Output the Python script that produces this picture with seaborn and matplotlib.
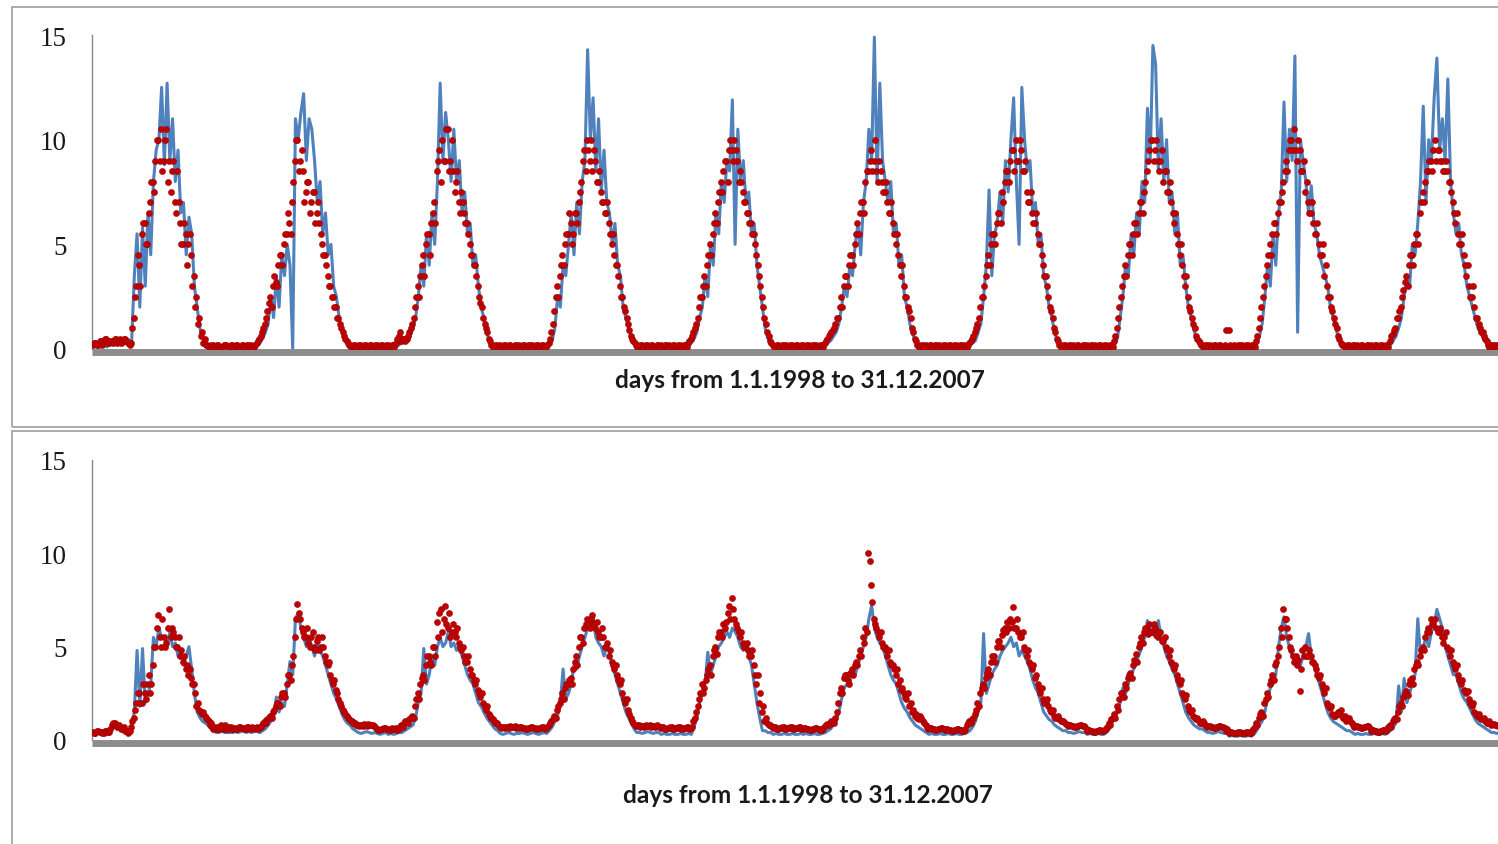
import matplotlib
matplotlib.use('Agg')
import matplotlib.pyplot as plt
import numpy as np
import pandas as pd
import seaborn as sns
from matplotlib.patches import Rectangle

# one row per year (1998 ... 2007), values read off the chart roughly once a week
YEAR_LEN = 365.25
N_YEARS = 10
Y_TICKS = [0, 5, 10, 15]
XLABEL = 'days from 1.1.1998 to 31.12.2007'

# upper panel, blue line
top_line = [
    [0.1, 0.2, 0.1, 0.3, 0.2, 0.1, 0.3, 0.2, 0.4, 0.2, 0.3, 0.2, 0.4, 0.3, 0.3, 3.5, 5.5, 2.0, 5.8, 3.0, 6.5, 4.5, 8.0, 9.5, 10.0, 12.5, 8.8, 12.7, 9.0, 11.0, 8.0, 9.5, 6.5, 7.0, 4.5, 6.3, 5.5, 3.0, 2.0, 1.0, 0.5, 0.3, 0.2, 0.1, 0.1, 0.2, 0.1, 0.1, 0.2, 0.1, 0.1, 0.1],
    [0.1, 0.2, 0.1, 0.1, 0.2, 0.1, 0.1, 0.2, 0.2, 0.3, 0.5, 0.8, 1.2, 2.5, 1.5, 3.5, 2.0, 4.5, 3.5, 5.0, 4.0, 0.0, 11.0, 10.0, 11.3, 12.2, 9.0, 11.0, 10.5, 9.0, 7.0, 8.0, 5.5, 6.5, 4.5, 5.0, 3.0, 2.5, 1.5, 1.0, 0.5, 0.3, 0.1, 0.1, 0.2, 0.1, 0.1, 0.1, 0.2, 0.1, 0.1, 0.1],
    [0.1, 0.1, 0.2, 0.1, 0.1, 0.2, 0.1, 0.1, 0.2, 0.3, 0.3, 0.4, 0.6, 1.0, 1.5, 2.5, 4.0, 3.0, 5.5, 4.0, 6.5, 5.0, 8.0, 12.7, 9.0, 11.3, 10.0, 8.0, 10.5, 8.0, 9.0, 6.5, 7.5, 5.5, 6.0, 4.0, 4.5, 3.0, 2.0, 1.5, 0.8, 0.4, 0.1, 0.2, 0.1, 0.1, 0.1, 0.2, 0.1, 0.1, 0.2, 0.1],
    [0.1, 0.2, 0.1, 0.1, 0.2, 0.1, 0.1, 0.2, 0.1, 0.1, 0.1, 0.2, 0.4, 1.0, 2.5, 2.0, 4.0, 3.5, 5.0, 6.5, 4.5, 7.0, 5.5, 8.0, 9.0, 14.3, 10.0, 12.0, 8.5, 11.0, 7.5, 9.5, 7.0, 6.5, 5.0, 6.0, 4.0, 3.5, 2.0, 1.5, 1.0, 0.5, 0.3, 0.1, 0.2, 0.1, 0.1, 0.1, 0.2, 0.1, 0.1, 0.1],
    [0.1, 0.1, 0.2, 0.1, 0.1, 0.2, 0.1, 0.1, 0.2, 0.1, 0.2, 0.3, 0.5, 0.8, 1.5, 2.0, 3.5, 2.5, 5.0, 4.0, 6.5, 5.5, 8.0, 7.0, 9.0, 8.5, 11.9, 5.0, 10.5, 8.0, 9.0, 7.0, 7.5, 5.5, 6.0, 4.0, 3.0, 2.0, 1.0, 0.5, 0.3, 0.1, 0.2, 0.1, 0.1, 0.1, 0.2, 0.1, 0.1, 0.2, 0.1, 0.1],
    [0.1, 0.2, 0.1, 0.1, 0.2, 0.1, 0.1, 0.1, 0.2, 0.3, 0.4, 0.6, 0.8, 1.2, 2.0, 3.0, 2.5, 4.0, 3.5, 5.0, 6.0, 4.5, 7.0, 8.0, 10.5, 9.0, 14.9, 8.0, 12.7, 9.0, 8.0, 7.0, 8.0, 5.5, 6.0, 4.0, 4.5, 2.5, 2.0, 1.2, 0.7, 0.4, 0.2, 0.1, 0.1, 0.2, 0.1, 0.1, 0.1, 0.2, 0.1, 0.1],
    [0.1, 0.1, 0.2, 0.1, 0.1, 0.2, 0.1, 0.1, 0.1, 0.2, 0.3, 0.4, 0.8, 1.2, 2.5, 4.0, 7.6, 3.5, 5.5, 6.0, 7.5, 6.0, 9.0, 7.5, 10.0, 12.0, 8.0, 5.0, 12.5, 10.0, 8.5, 9.0, 6.5, 7.0, 5.0, 5.5, 3.5, 3.0, 2.0, 1.5, 0.8, 0.4, 0.2, 0.1, 0.1, 0.1, 0.2, 0.1, 0.1, 0.2, 0.1, 0.1],
    [0.1, 0.2, 0.1, 0.1, 0.2, 0.1, 0.1, 0.2, 0.1, 0.1, 0.2, 0.5, 1.5, 2.5, 4.0, 3.5, 5.5, 4.5, 6.5, 5.5, 8.0, 7.0, 11.5, 9.0, 14.5, 13.6, 8.5, 11.0, 8.0, 10.0, 7.0, 7.5, 5.5, 6.5, 4.0, 4.5, 3.0, 2.0, 1.5, 0.9, 0.5, 0.3, 0.2, 0.1, 0.2, 0.1, 0.1, 0.2, 0.1, 0.1, 0.2, 0.1],
    [0.1, 0.1, 0.2, 0.1, 0.1, 0.1, 0.2, 0.1, 0.1, 0.1, 0.2, 0.6, 1.2, 2.5, 4.0, 3.0, 5.5, 4.0, 6.5, 7.5, 11.8, 8.0, 10.5, 9.0, 14.0, 0.8, 10.0, 9.0, 8.0, 6.5, 7.8, 6.0, 5.5, 4.5, 4.0, 3.5, 3.0, 2.0, 1.5, 1.0, 0.5, 0.3, 0.1, 0.2, 0.1, 0.1, 0.1, 0.2, 0.1, 0.1, 0.1, 0.1],
    [0.1, 0.2, 0.1, 0.1, 0.2, 0.1, 0.1, 0.2, 0.4, 0.6, 1.0, 1.5, 2.5, 3.5, 3.0, 5.0, 4.5, 6.0, 8.0, 11.6, 7.0, 10.0, 9.0, 12.0, 13.9, 9.5, 11.0, 9.0, 12.9, 8.0, 6.5, 5.5, 6.0, 4.5, 4.0, 3.0, 2.5, 2.0, 1.5, 1.0, 0.8, 0.5, 0.3, 0.1, 0.2, 0.1, 0.1, 0.1, 0.2, 0.1, 0.1, 0.1],
]

# upper panel, red dots (two readings per week: centre of the cloud and its other edge)
top_dots = [
    [0.2, 0.3, 0.2, 0.4, 0.3, 0.5, 0.3, 0.4, 0.5, 0.3, 0.5, 0.4, 0.5, 0.3, 0.3, 1.5, 3.0, 4.0, 5.5, 6.0, 5.0, 7.0, 8.0, 9.0, 10.0, 10.5, 9.0, 10.5, 9.0, 8.5, 7.0, 8.5, 6.0, 5.0, 5.5, 5.0, 4.5, 3.5, 2.5, 1.5, 0.8, 0.5, 0.2, 0.1, 0.2, 0.1, 0.2, 0.1, 0.2, 0.2, 0.1, 0.2],
    [0.1, 0.2, 0.1, 0.2, 0.1, 0.2, 0.2, 0.1, 0.3, 0.5, 0.8, 1.2, 1.8, 2.5, 3.0, 3.2, 4.0, 4.5, 5.0, 5.5, 6.0, 7.0, 9.0, 10.0, 9.0, 8.5, 7.5, 8.0, 7.0, 7.5, 6.5, 6.0, 5.0, 4.5, 3.5, 3.0, 2.5, 2.0, 1.5, 1.0, 0.6, 0.4, 0.2, 0.1, 0.2, 0.1, 0.2, 0.1, 0.2, 0.1, 0.2, 0.1],
    [0.2, 0.1, 0.2, 0.1, 0.2, 0.1, 0.2, 0.3, 0.6, 0.4, 0.5, 0.5, 0.8, 1.2, 2.0, 3.0, 3.5, 4.5, 5.0, 5.5, 6.0, 7.0, 8.5, 9.5, 10.0, 9.0, 10.5, 9.0, 8.5, 8.0, 7.0, 7.5, 6.5, 6.0, 5.0, 4.5, 4.0, 3.0, 2.2, 1.5, 1.0, 0.5, 0.2, 0.1, 0.2, 0.2, 0.1, 0.2, 0.1, 0.2, 0.1, 0.2],
    [0.2, 0.1, 0.2, 0.1, 0.2, 0.2, 0.1, 0.2, 0.1, 0.2, 0.1, 0.3, 0.8, 1.8, 3.0, 3.5, 4.5, 5.0, 5.5, 6.0, 5.5, 6.5, 7.0, 8.0, 9.5, 10.0, 9.0, 8.5, 9.0, 8.0, 7.5, 7.0, 6.5, 6.0, 5.0, 4.5, 4.0, 3.0, 2.5, 1.8, 1.2, 0.6, 0.4, 0.2, 0.1, 0.2, 0.1, 0.2, 0.1, 0.2, 0.1, 0.2],
    [0.2, 0.1, 0.2, 0.2, 0.1, 0.2, 0.1, 0.2, 0.1, 0.2, 0.3, 0.5, 0.8, 1.2, 2.0, 2.5, 3.5, 4.0, 5.0, 5.5, 6.5, 7.0, 8.0, 8.5, 9.0, 9.5, 9.5, 10.0, 9.0, 8.5, 7.5, 7.0, 6.5, 6.0, 5.5, 4.5, 3.5, 2.5, 1.5, 0.8, 0.4, 0.2, 0.1, 0.2, 0.1, 0.2, 0.2, 0.1, 0.2, 0.1, 0.2, 0.1],
    [0.2, 0.1, 0.2, 0.1, 0.2, 0.2, 0.1, 0.2, 0.3, 0.5, 0.7, 0.9, 1.2, 1.5, 2.5, 3.0, 3.5, 4.0, 4.5, 5.0, 6.0, 6.5, 7.0, 8.0, 8.5, 9.5, 9.0, 8.5, 9.0, 8.0, 7.5, 7.0, 6.5, 6.0, 5.0, 4.5, 3.5, 3.0, 2.5, 1.8, 1.0, 0.5, 0.2, 0.1, 0.2, 0.2, 0.1, 0.2, 0.1, 0.2, 0.2, 0.1],
    [0.2, 0.1, 0.2, 0.1, 0.2, 0.1, 0.2, 0.2, 0.1, 0.3, 0.5, 0.8, 1.2, 2.0, 2.5, 3.5, 4.5, 5.0, 5.5, 6.0, 6.5, 7.5, 8.0, 8.5, 9.0, 9.5, 10.0, 9.0, 9.5, 8.5, 7.5, 7.0, 6.5, 6.0, 5.5, 5.0, 4.0, 3.5, 2.5, 1.8, 1.0, 0.5, 0.2, 0.1, 0.2, 0.1, 0.2, 0.2, 0.1, 0.2, 0.1, 0.2],
    [0.2, 0.1, 0.2, 0.2, 0.1, 0.2, 0.1, 0.2, 0.1, 0.2, 0.4, 1.0, 2.0, 3.0, 4.0, 4.5, 5.0, 5.5, 6.0, 6.5, 7.0, 7.5, 8.5, 9.5, 10.0, 9.5, 9.0, 9.0, 8.0, 8.5, 7.5, 7.0, 6.0, 5.5, 4.5, 4.0, 3.0, 2.5, 1.8, 1.2, 0.6, 0.4, 0.2, 0.1, 0.2, 0.2, 0.1, 0.2, 0.1, 0.2, 0.1, 0.9],
    [0.9, 0.1, 0.2, 0.1, 0.2, 0.2, 0.1, 0.2, 0.1, 0.2, 0.4, 1.0, 2.0, 3.0, 4.0, 5.0, 5.5, 6.0, 6.5, 7.0, 8.0, 9.0, 9.5, 10.0, 10.5, 9.0, 9.5, 8.5, 7.5, 7.0, 6.5, 6.0, 5.5, 5.0, 4.5, 3.5, 3.0, 2.5, 1.8, 1.2, 0.6, 0.3, 0.2, 0.1, 0.2, 0.1, 0.2, 0.2, 0.1, 0.2, 0.1, 0.2],
    [0.2, 0.1, 0.2, 0.1, 0.2, 0.1, 0.2, 0.4, 0.7, 1.0, 1.5, 2.0, 2.8, 3.5, 4.0, 4.5, 5.0, 5.5, 6.5, 7.5, 8.0, 8.5, 9.0, 9.5, 9.0, 9.5, 9.0, 8.5, 8.5, 8.0, 7.0, 6.0, 5.5, 5.0, 4.5, 3.5, 3.0, 2.5, 2.0, 1.5, 1.0, 0.8, 0.5, 0.2, 0.2, 0.1, 0.2, 0.2, 0.1, 0.2, 0.1, 0.2],
]
top_dots_2 = [
    [0.3, 0.2, 0.4, 0.2, 0.5, 0.3, 0.4, 0.3, 0.5, 0.4, 0.3, 0.5, 0.4, 0.2, 1.0, 2.5, 4.5, 3.0, 6.0, 5.0, 6.5, 8.0, 7.5, 10.0, 9.0, 8.5, 10.0, 8.0, 7.5, 9.0, 6.5, 7.0, 5.0, 6.0, 4.0, 5.5, 3.0, 2.0, 1.2, 0.6, 0.3, 0.2, 0.1, 0.2, 0.1, 0.2, 0.1, 0.1, 0.2, 0.1, 0.2, 0.1],
    [0.2, 0.1, 0.2, 0.1, 0.2, 0.1, 0.1, 0.2, 0.4, 0.6, 1.0, 1.5, 2.2, 2.0, 3.5, 3.0, 4.5, 4.0, 5.5, 6.5, 5.5, 8.0, 10.0, 8.5, 9.5, 7.0, 8.0, 6.5, 7.5, 6.0, 7.0, 5.5, 4.5, 4.0, 3.0, 2.5, 2.0, 1.5, 1.2, 0.8, 0.5, 0.3, 0.1, 0.2, 0.1, 0.2, 0.1, 0.2, 0.1, 0.2, 0.1, 0.2],
    [0.1, 0.2, 0.1, 0.2, 0.1, 0.2, 0.1, 0.5, 0.8, 0.5, 0.4, 0.6, 1.0, 1.5, 2.5, 2.5, 4.0, 3.5, 5.5, 4.5, 6.5, 6.0, 9.0, 8.0, 9.0, 10.5, 8.5, 10.0, 7.5, 8.5, 6.5, 7.0, 6.0, 5.5, 4.5, 4.0, 3.5, 2.5, 2.0, 1.2, 0.8, 0.4, 0.1, 0.2, 0.1, 0.1, 0.2, 0.1, 0.2, 0.1, 0.2, 0.1],
    [0.1, 0.2, 0.1, 0.2, 0.1, 0.1, 0.2, 0.1, 0.2, 0.1, 0.2, 0.5, 1.2, 2.5, 2.5, 4.0, 4.0, 5.5, 6.5, 5.0, 6.5, 6.0, 7.5, 9.0, 8.5, 9.5, 10.0, 9.5, 8.0, 8.5, 7.0, 6.5, 7.0, 5.5, 5.5, 4.0, 3.5, 2.5, 2.0, 1.5, 0.9, 0.5, 0.3, 0.1, 0.2, 0.1, 0.2, 0.1, 0.2, 0.1, 0.2, 0.1],
    [0.1, 0.2, 0.1, 0.1, 0.2, 0.1, 0.2, 0.1, 0.2, 0.1, 0.4, 0.6, 1.0, 1.5, 2.5, 3.0, 3.0, 4.5, 4.5, 6.0, 6.0, 7.5, 7.5, 9.0, 8.0, 10.0, 9.0, 9.5, 8.0, 8.0, 7.0, 6.5, 6.0, 5.5, 5.0, 4.0, 3.0, 2.0, 1.2, 0.6, 0.3, 0.1, 0.2, 0.1, 0.2, 0.1, 0.1, 0.2, 0.1, 0.2, 0.1, 0.2],
    [0.1, 0.2, 0.1, 0.2, 0.1, 0.1, 0.2, 0.1, 0.4, 0.6, 0.8, 1.0, 1.5, 2.0, 2.0, 3.5, 3.0, 4.5, 4.0, 5.5, 5.5, 7.0, 6.5, 8.5, 9.0, 8.5, 10.0, 8.0, 8.5, 7.5, 8.0, 6.5, 7.0, 5.5, 5.5, 4.0, 4.0, 2.5, 2.0, 1.5, 0.8, 0.4, 0.1, 0.2, 0.1, 0.1, 0.2, 0.1, 0.2, 0.1, 0.1, 0.2],
    [0.1, 0.2, 0.1, 0.2, 0.1, 0.2, 0.1, 0.1, 0.2, 0.4, 0.6, 1.0, 1.5, 2.5, 3.0, 4.0, 4.0, 5.5, 5.0, 6.5, 6.0, 7.0, 8.5, 8.0, 9.5, 8.5, 9.0, 10.0, 8.5, 9.0, 7.0, 7.5, 6.0, 6.5, 5.0, 4.5, 3.5, 3.0, 2.0, 1.5, 0.8, 0.4, 0.1, 0.2, 0.1, 0.2, 0.1, 0.1, 0.2, 0.1, 0.2, 0.1],
    [0.1, 0.2, 0.1, 0.1, 0.2, 0.1, 0.2, 0.1, 0.2, 0.1, 0.6, 1.5, 2.5, 3.5, 3.5, 5.0, 4.5, 6.0, 5.5, 7.0, 6.5, 8.0, 9.0, 10.0, 9.0, 10.0, 8.5, 9.5, 8.5, 7.5, 8.0, 6.5, 6.5, 5.0, 5.0, 3.5, 3.5, 2.0, 1.5, 1.0, 0.5, 0.3, 0.1, 0.2, 0.1, 0.1, 0.2, 0.1, 0.2, 0.1, 0.2, 0.1],
    [0.2, 0.1, 0.1, 0.2, 0.1, 0.1, 0.2, 0.1, 0.2, 0.1, 0.6, 1.5, 2.5, 3.5, 4.5, 4.5, 6.0, 5.5, 7.0, 7.5, 8.5, 8.5, 10.0, 9.5, 9.5, 10.0, 8.5, 9.0, 8.0, 6.5, 7.0, 5.5, 6.0, 4.5, 5.0, 4.0, 2.5, 2.0, 1.5, 1.0, 0.5, 0.2, 0.1, 0.2, 0.1, 0.2, 0.1, 0.1, 0.2, 0.1, 0.2, 0.1],
    [0.1, 0.2, 0.1, 0.2, 0.1, 0.2, 0.1, 0.6, 0.9, 1.5, 1.8, 2.5, 3.2, 3.0, 4.5, 4.0, 5.5, 5.0, 7.0, 7.0, 8.5, 9.0, 8.5, 10.0, 9.5, 9.0, 8.5, 9.0, 8.0, 7.5, 6.5, 6.5, 5.0, 5.5, 4.0, 4.0, 2.5, 3.0, 1.5, 1.2, 0.8, 0.6, 0.4, 0.1, 0.2, 0.2, 0.1, 0.2, 0.1, 0.2, 0.2, 0.1],
]

# lower panel, blue line
bottom_line = [
    [0.35, 0.3, 0.4, 0.35, 0.3, 0.4, 0.35, 0.6, 0.7, 0.6, 0.6, 0.5, 0.4, 0.3, 0.8, 1.5, 4.8, 1.8, 4.9, 2.0, 2.5, 3.0, 5.5, 5.0, 6.0, 5.5, 5.5, 5.0, 5.8, 5.0, 5.2, 4.5, 4.8, 4.0, 4.5, 5.0, 3.8, 2.5, 1.5, 1.2, 1.0, 0.9, 0.8, 0.6, 0.5, 0.4, 0.4, 0.5, 0.4, 0.4, 0.4, 0.4],
    [0.45, 0.4, 0.45, 0.5, 0.4, 0.45, 0.4, 0.5, 0.45, 0.4, 0.5, 0.6, 0.8, 1.0, 1.2, 2.3, 1.5, 2.0, 1.8, 3.0, 4.2, 3.5, 6.5, 6.8, 6.0, 5.5, 5.0, 5.5, 5.0, 4.5, 5.2, 4.8, 4.5, 4.0, 3.5, 3.0, 2.5, 2.2, 1.8, 1.4, 1.1, 0.9, 0.8, 0.6, 0.5, 0.4, 0.35, 0.4, 0.45, 0.4, 0.35, 0.4],
    [0.35, 0.3, 0.35, 0.4, 0.3, 0.35, 0.3, 0.35, 0.4, 0.4, 0.5, 0.6, 0.7, 0.8, 1.2, 2.0, 2.5, 4.9, 3.0, 3.5, 4.5, 4.0, 5.0, 5.5, 5.0, 5.2, 5.8, 5.0, 5.2, 4.8, 5.0, 4.5, 4.0, 3.5, 3.2, 3.0, 2.5, 2.0, 1.8, 1.5, 1.2, 1.0, 0.8, 0.6, 0.5, 0.35, 0.3, 0.35, 0.4, 0.35, 0.3, 0.35],
    [0.35, 0.4, 0.35, 0.3, 0.35, 0.4, 0.35, 0.3, 0.35, 0.4, 0.35, 0.5, 0.7, 1.0, 1.3, 2.0, 3.8, 2.2, 2.5, 3.0, 4.0, 3.8, 4.5, 5.0, 5.5, 6.0, 6.2, 6.6, 5.5, 5.2, 5.0, 4.5, 5.0, 4.7, 4.0, 3.5, 3.0, 2.5, 2.0, 1.5, 1.2, 0.9, 0.6, 0.4, 0.4, 0.35, 0.4, 0.45, 0.4, 0.35, 0.4, 0.4],
    [0.3, 0.35, 0.3, 0.3, 0.35, 0.3, 0.3, 0.35, 0.3, 0.3, 0.35, 0.3, 0.7, 1.2, 2.0, 2.5, 3.0, 4.7, 3.5, 4.0, 4.5, 5.0, 5.2, 5.5, 5.8, 5.5, 6.0, 5.8, 5.5, 5.0, 4.8, 5.0, 4.5, 4.0, 3.0, 2.0, 1.2, 0.5, 0.5, 0.4, 0.4, 0.3, 0.35, 0.3, 0.3, 0.35, 0.3, 0.3, 0.35, 0.3, 0.3, 0.35],
    [0.3, 0.35, 0.3, 0.3, 0.35, 0.3, 0.3, 0.35, 0.4, 0.5, 0.6, 0.8, 1.0, 1.5, 2.2, 2.8, 3.0, 3.3, 3.8, 3.5, 4.0, 4.5, 5.0, 5.5, 6.5, 7.2, 6.0, 5.5, 5.2, 5.0, 4.5, 4.0, 3.5, 3.2, 3.0, 2.5, 2.0, 1.7, 1.5, 1.2, 1.0, 0.8, 0.7, 0.6, 0.5, 0.4, 0.3, 0.35, 0.3, 0.3, 0.35, 0.3],
    [0.3, 0.35, 0.3, 0.3, 0.35, 0.3, 0.3, 0.35, 0.4, 0.5, 0.7, 1.0, 1.5, 2.0, 5.7, 2.5, 3.0, 3.5, 3.8, 4.0, 4.5, 4.8, 5.0, 5.2, 5.5, 5.0, 5.2, 4.5, 4.8, 4.5, 4.2, 3.8, 3.2, 2.8, 2.5, 2.0, 1.5, 1.3, 1.1, 1.0, 0.8, 0.7, 0.6, 0.5, 0.5, 0.4, 0.4, 0.35, 0.4, 0.45, 0.4, 0.4],
    [0.3, 0.35, 0.3, 0.3, 0.35, 0.3, 0.3, 0.4, 0.6, 0.9, 1.2, 1.5, 2.0, 2.8, 2.5, 3.0, 3.5, 3.8, 4.2, 4.6, 5.0, 5.5, 6.4, 5.8, 6.0, 5.5, 6.4, 5.5, 5.0, 4.5, 4.2, 3.8, 3.5, 3.0, 2.5, 2.0, 1.5, 1.2, 1.0, 0.8, 0.7, 0.6, 0.6, 0.5, 0.4, 0.4, 0.35, 0.4, 0.45, 0.4, 0.35, 0.4],
    [0.2, 0.25, 0.2, 0.2, 0.25, 0.2, 0.2, 0.25, 0.2, 0.3, 0.5, 0.8, 1.0, 1.5, 2.2, 2.8, 3.0, 3.5, 5.0, 6.0, 6.6, 5.5, 5.0, 4.5, 4.2, 4.5, 4.0, 4.5, 5.0, 5.7, 4.5, 4.0, 3.5, 3.0, 2.5, 2.0, 1.5, 1.2, 1.0, 0.9, 0.8, 0.7, 0.6, 0.5, 0.5, 0.4, 0.3, 0.35, 0.3, 0.3, 0.35, 0.3],
    [0.3, 0.35, 0.3, 0.3, 0.35, 0.3, 0.4, 0.5, 0.7, 0.9, 2.9, 1.5, 3.3, 2.0, 2.5, 3.0, 3.5, 6.5, 4.5, 5.0, 5.5, 5.0, 5.8, 6.2, 7.0, 6.5, 6.0, 5.0, 4.5, 4.0, 3.5, 3.5, 3.0, 2.5, 2.2, 2.0, 1.7, 1.4, 1.1, 0.9, 0.8, 0.7, 0.6, 0.5, 0.4, 0.4, 0.35, 0.4, 0.45, 0.4, 0.35, 0.4],
]

# lower panel, red dots
bottom_dots = [
    [0.45, 0.4, 0.5, 0.45, 0.4, 0.5, 0.45, 0.8, 0.9, 0.7, 0.7, 0.6, 0.5, 0.4, 0.7, 1.2, 2.0, 2.5, 2.0, 2.5, 3.0, 2.5, 4.0, 5.0, 6.7, 5.0, 5.5, 5.2, 7.0, 6.0, 5.5, 5.0, 4.5, 4.2, 3.8, 3.5, 3.3, 3.0, 1.8, 1.6, 1.4, 1.3, 1.1, 0.8, 0.6, 0.6, 0.6, 0.8, 0.6, 0.6, 0.7, 0.6],
    [0.65, 0.6, 0.7, 0.65, 0.6, 0.7, 0.65, 0.6, 0.7, 0.65, 0.8, 1.0, 1.1, 1.3, 1.5, 1.8, 2.0, 2.3, 2.5, 3.0, 3.5, 4.0, 5.5, 7.3, 6.5, 5.8, 5.5, 5.2, 5.5, 5.0, 5.3, 4.8, 5.5, 4.5, 4.0, 3.5, 3.0, 2.7, 2.2, 1.8, 1.5, 1.3, 1.1, 1.0, 0.9, 0.8, 0.8, 0.75, 0.8, 0.85, 0.8, 0.75],
    [0.6, 0.55, 0.6, 0.65, 0.6, 0.55, 0.6, 0.65, 0.6, 0.8, 0.9, 1.0, 1.1, 1.3, 1.8, 2.5, 3.0, 3.5, 4.0, 4.5, 4.0, 5.0, 6.3, 6.8, 5.8, 7.2, 6.0, 5.5, 6.2, 5.5, 5.2, 4.8, 4.5, 4.2, 3.8, 3.5, 3.0, 2.7, 2.3, 2.0, 1.6, 1.4, 1.2, 1.0, 0.9, 0.7, 0.7, 0.65, 0.7, 0.75, 0.7, 0.65],
    [0.65, 0.7, 0.65, 0.6, 0.65, 0.7, 0.65, 0.6, 0.65, 0.7, 0.65, 0.8, 1.0, 1.3, 1.6, 2.0, 2.5, 2.8, 3.0, 3.3, 3.8, 4.5, 5.0, 5.5, 6.0, 6.5, 6.0, 6.7, 6.0, 5.8, 5.5, 5.5, 5.0, 4.5, 4.2, 3.8, 3.5, 3.0, 2.5, 2.0, 1.6, 1.2, 0.9, 0.75, 0.8, 0.75, 0.7, 0.75, 0.8, 0.75, 0.7, 0.75],
    [0.65, 0.7, 0.6, 0.65, 0.7, 0.6, 0.65, 0.7, 0.6, 0.65, 0.7, 0.65, 1.0, 1.5, 2.2, 3.0, 2.8, 3.5, 4.0, 4.5, 5.0, 5.5, 5.8, 6.2, 6.3, 7.2, 7.6, 6.5, 6.0, 5.5, 5.2, 5.0, 4.8, 4.5, 4.0, 3.0, 2.0, 1.5, 1.0, 0.9, 0.8, 0.65, 0.7, 0.6, 0.65, 0.7, 0.6, 0.65, 0.7, 0.6, 0.65, 0.7],
    [0.6, 0.65, 0.6, 0.55, 0.6, 0.65, 0.6, 0.55, 0.75, 0.85, 0.9, 1.0, 1.2, 2.0, 2.8, 3.3, 3.5, 3.0, 3.8, 4.0, 4.0, 4.8, 5.5, 6.0, 10.0, 8.3, 6.5, 6.0, 5.5, 5.2, 5.0, 4.5, 4.2, 4.0, 3.5, 3.0, 2.7, 2.5, 2.2, 1.8, 1.5, 1.3, 1.2, 1.3, 1.0, 0.8, 0.6, 0.65, 0.6, 0.55, 0.6, 0.65],
    [0.55, 0.6, 0.55, 0.5, 0.55, 0.6, 0.55, 0.5, 0.8, 1.0, 1.1, 1.4, 2.0, 2.5, 3.0, 3.3, 3.8, 4.2, 4.5, 5.0, 5.3, 5.6, 6.0, 6.3, 6.5, 7.1, 6.0, 5.8, 5.5, 5.0, 4.5, 4.2, 3.8, 3.3, 3.0, 2.5, 2.2, 2.0, 1.8, 1.5, 1.3, 1.2, 1.1, 1.0, 0.9, 0.75, 0.8, 0.75, 0.7, 0.75, 0.8, 0.75],
    [0.5, 0.55, 0.5, 0.45, 0.5, 0.55, 0.5, 0.6, 0.9, 1.1, 1.4, 1.8, 2.2, 2.5, 3.0, 3.3, 3.6, 4.0, 4.6, 5.0, 5.5, 5.8, 6.0, 6.2, 5.8, 6.0, 5.5, 5.8, 5.3, 5.0, 4.5, 4.2, 3.8, 3.5, 3.0, 2.5, 2.2, 1.8, 1.5, 1.3, 1.1, 1.0, 0.9, 0.9, 0.7, 0.75, 0.7, 0.65, 0.7, 0.75, 0.7, 0.5],
    [0.4, 0.45, 0.35, 0.4, 0.45, 0.35, 0.4, 0.45, 0.4, 0.6, 0.9, 1.2, 1.5, 2.0, 2.5, 3.0, 3.5, 4.0, 4.5, 6.0, 7.0, 6.5, 5.5, 4.8, 4.2, 4.0, 2.6, 4.8, 5.0, 4.5, 4.5, 4.2, 3.8, 3.3, 3.0, 2.5, 2.0, 1.7, 1.4, 1.3, 1.5, 1.6, 1.2, 1.0, 1.2, 0.9, 0.7, 0.75, 0.7, 0.65, 0.7, 0.75],
    [0.5, 0.55, 0.5, 0.45, 0.5, 0.55, 0.6, 0.8, 1.0, 1.2, 1.5, 2.0, 2.3, 2.6, 3.0, 3.3, 3.8, 4.2, 4.5, 5.0, 5.5, 6.0, 6.5, 6.2, 6.0, 5.8, 5.5, 5.5, 5.0, 4.5, 4.2, 3.8, 3.5, 3.0, 2.7, 2.5, 2.2, 1.8, 1.5, 1.3, 1.2, 1.1, 1.0, 0.9, 0.8, 0.85, 0.8, 0.75, 0.8, 0.85, 0.8, 0.75],
]
bottom_dots_2 = [
    [0.4, 0.5, 0.45, 0.4, 0.5, 0.45, 0.6, 0.9, 0.8, 0.8, 0.6, 0.7, 0.5, 0.5, 1.0, 1.6, 2.5, 2.0, 3.0, 2.2, 3.5, 3.0, 5.0, 6.0, 5.5, 6.5, 5.0, 6.0, 5.5, 5.8, 5.0, 5.5, 4.8, 4.5, 4.0, 3.8, 3.0, 2.5, 2.0, 1.5, 1.5, 1.2, 1.0, 0.9, 0.7, 0.7, 0.6, 0.7, 0.8, 0.6, 0.7, 0.6],
    [0.6, 0.7, 0.65, 0.6, 0.7, 0.6, 0.7, 0.65, 0.6, 0.7, 0.9, 0.9, 1.2, 1.2, 1.6, 2.0, 1.8, 2.5, 2.3, 3.5, 3.2, 4.5, 6.5, 6.8, 6.0, 5.5, 6.0, 5.0, 5.8, 4.8, 5.5, 5.0, 5.0, 4.2, 4.2, 3.2, 3.2, 2.5, 2.0, 1.6, 1.4, 1.2, 1.0, 0.9, 0.8, 0.75, 0.8, 0.85, 0.75, 0.8, 0.8, 0.7],
    [0.55, 0.6, 0.65, 0.6, 0.55, 0.65, 0.6, 0.55, 0.7, 0.7, 1.0, 0.9, 1.2, 1.2, 2.2, 2.2, 3.3, 3.2, 4.5, 4.2, 5.0, 4.5, 5.5, 7.0, 6.5, 6.2, 6.8, 5.8, 5.8, 6.0, 5.0, 5.0, 4.2, 4.5, 3.5, 3.2, 3.2, 2.5, 2.5, 1.8, 1.8, 1.3, 1.1, 0.9, 0.8, 0.65, 0.7, 0.7, 0.65, 0.7, 0.75, 0.7],
    [0.7, 0.65, 0.6, 0.65, 0.7, 0.65, 0.6, 0.65, 0.7, 0.6, 0.7, 0.9, 1.1, 1.2, 1.8, 2.2, 2.2, 3.0, 3.2, 3.0, 4.2, 4.0, 5.5, 5.2, 6.2, 6.2, 6.5, 6.2, 6.3, 5.5, 6.0, 5.0, 5.2, 4.8, 4.0, 4.0, 3.2, 3.2, 2.2, 2.2, 1.4, 1.0, 0.8, 0.8, 0.7, 0.75, 0.8, 0.75, 0.7, 0.75, 0.8, 0.7],
    [0.7, 0.6, 0.65, 0.7, 0.6, 0.65, 0.7, 0.6, 0.65, 0.7, 0.6, 0.7, 1.2, 1.8, 2.5, 2.5, 3.2, 3.8, 3.5, 4.8, 4.6, 5.8, 5.5, 6.0, 6.8, 6.5, 7.0, 6.2, 5.8, 5.8, 5.0, 5.2, 4.5, 4.8, 3.5, 3.5, 2.5, 1.8, 1.2, 0.8, 0.75, 0.7, 0.6, 0.65, 0.7, 0.6, 0.65, 0.7, 0.6, 0.65, 0.7, 0.6],
    [0.65, 0.6, 0.55, 0.6, 0.65, 0.6, 0.55, 0.65, 0.8, 0.8, 1.0, 0.9, 1.5, 2.5, 2.5, 3.5, 3.2, 3.6, 3.5, 4.2, 4.5, 4.5, 5.2, 5.8, 9.6, 7.4, 6.2, 5.8, 5.8, 5.0, 4.8, 4.8, 4.0, 3.8, 3.8, 3.2, 2.8, 2.3, 2.5, 2.0, 1.6, 1.4, 1.1, 1.2, 0.9, 0.7, 0.65, 0.6, 0.55, 0.6, 0.65, 0.6],
    [0.6, 0.55, 0.5, 0.55, 0.6, 0.55, 0.5, 0.6, 0.9, 0.9, 1.2, 1.6, 1.8, 2.8, 2.8, 3.6, 3.5, 4.5, 4.2, 5.3, 5.0, 5.9, 5.8, 6.0, 6.3, 6.0, 6.5, 5.5, 5.8, 4.8, 4.8, 4.0, 4.0, 3.5, 2.8, 2.8, 2.0, 2.2, 1.6, 1.6, 1.2, 1.3, 1.0, 1.0, 0.85, 0.8, 0.75, 0.7, 0.75, 0.8, 0.75, 0.7],
    [0.55, 0.5, 0.45, 0.5, 0.55, 0.5, 0.55, 0.7, 0.8, 1.2, 1.2, 1.6, 2.5, 2.3, 2.8, 3.5, 3.3, 4.3, 4.2, 5.2, 5.2, 6.0, 5.7, 5.8, 6.2, 5.6, 5.8, 5.3, 5.5, 4.8, 4.8, 4.0, 4.0, 3.2, 3.2, 2.3, 2.4, 1.6, 1.6, 1.2, 1.2, 0.9, 1.0, 0.8, 0.75, 0.7, 0.65, 0.7, 0.75, 0.7, 0.65, 0.6],
    [0.45, 0.35, 0.4, 0.45, 0.4, 0.35, 0.45, 0.4, 0.5, 0.7, 0.8, 1.4, 1.3, 2.2, 2.3, 3.2, 3.2, 4.2, 5.0, 5.5, 6.5, 6.0, 5.0, 4.5, 4.5, 4.3, 3.8, 4.5, 4.5, 4.8, 4.2, 4.0, 3.5, 3.5, 2.8, 2.8, 1.8, 1.8, 1.3, 1.4, 1.4, 1.3, 1.3, 1.1, 1.0, 0.8, 0.75, 0.7, 0.65, 0.7, 0.75, 0.7],
    [0.55, 0.5, 0.45, 0.5, 0.55, 0.5, 0.7, 0.7, 1.1, 1.1, 1.8, 1.8, 2.5, 2.4, 3.2, 3.0, 4.0, 4.0, 4.8, 4.8, 5.8, 5.8, 6.2, 6.5, 5.8, 6.0, 5.2, 5.8, 4.8, 4.8, 4.0, 4.0, 3.2, 3.2, 2.6, 2.6, 2.0, 2.0, 1.4, 1.4, 1.1, 1.2, 0.9, 1.0, 0.85, 0.8, 0.75, 0.8, 0.85, 0.8, 0.75, 0.8],
]

W, H = 1498, 845
LINE_COLOR = '#4f81bd'
DOT_COLOR = '#c00000'
AXIS_GREY = '#868686'
BAR_GREY = '#8c8c8c'
FRAME_GREY = '#a6a6a6'


def to_frame(rows, offset=0.5):
    # each row is one year; spread its samples evenly over that year
    days, vals = [], []
    for i, row in enumerate(rows):
        step = YEAR_LEN / len(row)
        for k, v in enumerate(row):
            days.append(i * YEAR_LEN + (k + offset) * step)
            vals.append(v)
    return pd.DataFrame({'day': days, 'value': vals})


def draw_panel(ax, line_rows, dot_sets):
    sns.lineplot(data=to_frame(line_rows), x='day', y='value', ax=ax,
                 color=LINE_COLOR, linewidth=2.2, estimator=None, sort=False)
    dots = pd.concat([to_frame(rows, offset=off) for rows, off in zip(dot_sets, [0.25, 0.75])])
    sns.scatterplot(data=dots, x='day', y='value', ax=ax,
                    color=DOT_COLOR, s=20, edgecolor='#900000', linewidth=0.3, zorder=3)
    ax.set_xlim(0, N_YEARS * YEAR_LEN)
    ax.set_ylim(0, 15)
    ax.set_yticks(Y_TICKS)
    ax.set_xticks([])
    ax.set_xlabel('')
    ax.set_ylabel('')
    ax.patch.set_alpha(0)
    for side in ['top', 'right']:
        ax.spines[side].set_visible(False)
    ax.spines['left'].set_color(AXIS_GREY)
    ax.spines['left'].set_linewidth(1.0)
    # thick grey category axis sitting just under zero
    ax.spines['bottom'].set_color(BAR_GREY)
    ax.spines['bottom'].set_linewidth(5.0)
    ax.spines['bottom'].set_capstyle('butt')
    ax.spines['bottom'].set_position(('outward', 2.5))
    ax.tick_params(axis='y', direction='out', length=7, width=1.0, color=AXIS_GREY,
                   pad=11, labelsize=19.5, labelcolor='#1a1a1a',
                   labelfontfamily='Liberation Serif')


sns.set_style('white')
plt.rcParams['font.family'] = ['Lato', 'DejaVu Sans']

fig = plt.figure(figsize=(W / 100, H / 100), dpi=100)

# chart-area frames
fig.add_artist(Rectangle((12 / W, 1 - 428 / H), 1.2, 420 / H, transform=fig.transFigure,
                         fill=False, edgecolor=FRAME_GREY, linewidth=1.3))
fig.add_artist(Rectangle((12 / W, -0.1), 1.2, 1 - 432 / H + 0.1, transform=fig.transFigure,
                         fill=False, edgecolor=FRAME_GREY, linewidth=1.3))

ax_top = fig.add_axes([92 / W, 1 - 350 / H, 1420 / W, 314 / H])
ax_bot = fig.add_axes([92 / W, 1 - 741 / H, 1420 / W, 280 / H])

draw_panel(ax_top, top_line, [top_dots, top_dots_2])
draw_panel(ax_bot, bottom_line, [bottom_dots, bottom_dots_2])

fig.text(800 / W, 1 - 381 / H, XLABEL, ha='center', va='center', fontsize=17.6,
         fontweight='bold', color='#1a1a1a')
fig.text(808 / W, 1 - 796 / H, XLABEL, ha='center', va='center', fontsize=17.6,
         fontweight='bold', color='#1a1a1a')

fig.savefig('out.png', dpi=100)
